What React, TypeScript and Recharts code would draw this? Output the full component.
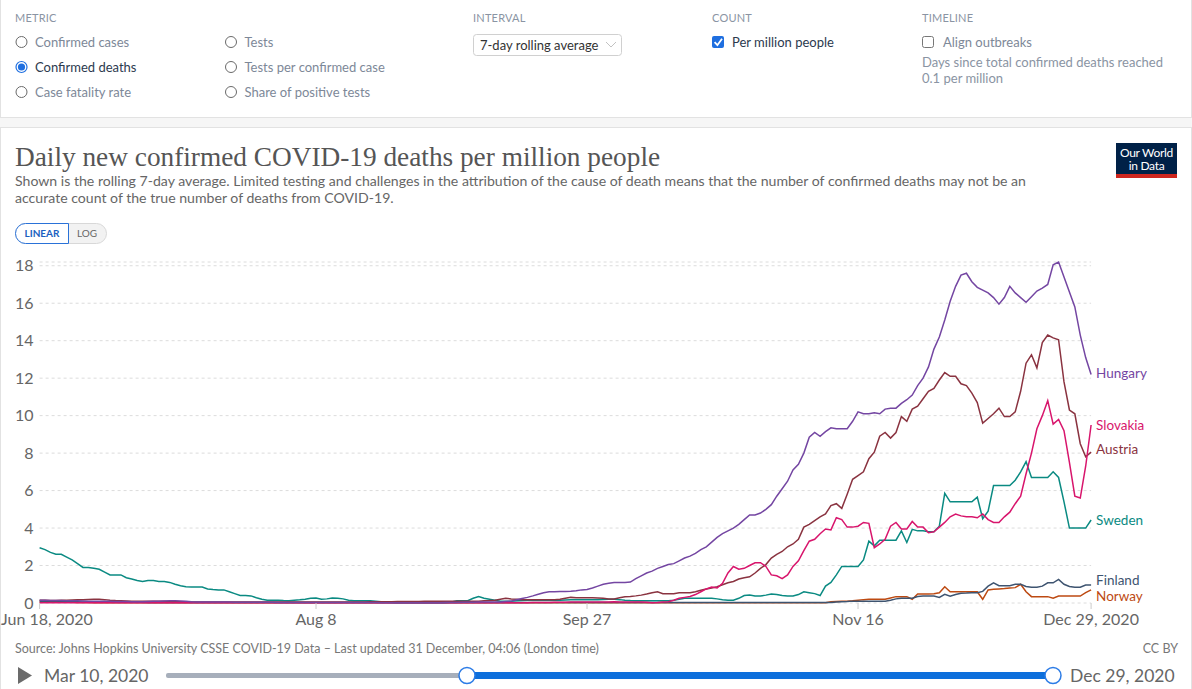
import React from 'react';
import { LineChart, Line, XAxis, YAxis, CartesianGrid, LabelList } from 'recharts';

// Daily values, Jun 18 2020 (day 0) .. Dec 29 2020 (day 194), deaths per million, 7-day avg
const hungary = [
  0.15,0.15,0.14,0.14,0.13,0.12,0.12,0.12,0.11,0.1,
  0.1,0.1,0.1,0.09,0.08,0.08,0.08,0.07,0.07,0.07,
  0.08,0.09,0.1,0.11,0.12,0.12,0.11,0.09,0.07,0.06,
  0.06,0.05,0.05,0.05,0.05,0.05,0.04,0.04,0.04,0.04,
  0.04,0.04,0.04,0.04,0.03,0.03,0.03,0.03,0.03,0.03,
  0.03,0.03,0.03,0.03,0.03,0.03,0.03,0.03,0.03,0.03,
  0.03,0.03,0.03,0.02,0.02,0.02,0.02,0.02,0.02,0.02,
  0.02,0.02,0.02,0.02,0.02,0.03,0.03,0.03,0.04,0.04,
  0.04,0.05,0.05,0.05,0.05,0.06,0.08,0.1,0.17,0.24,
  0.3,0.38,0.47,0.55,0.6,0.6,0.62,0.62,0.63,0.65,
  0.7,0.72,0.8,0.9,1.0,1.05,1.1,1.1,1.1,1.12,
  1.3,1.45,1.6,1.7,1.85,1.95,2.05,2.1,2.25,2.4,
  2.5,2.65,2.85,3.0,3.25,3.5,3.7,3.85,4.0,4.2,
  4.45,4.7,4.7,4.8,5.0,5.25,5.7,6.1,6.5,7.1,
  7.4,8.0,8.85,9.1,8.9,9.15,9.35,9.3,9.3,9.3,
  9.7,10.2,10.1,10.1,10.15,10.1,10.35,10.4,10.4,10.65,
  10.85,11.1,11.6,12.0,12.6,13.55,14.2,15.1,16.1,16.9,
  17.5,17.6,17.15,16.85,16.7,16.55,16.3,15.95,16.3,16.9,
  16.55,16.3,16.05,16.35,16.65,16.8,17.0,18.05,18.2,17.4,
  16.6,15.8,14.3,13.1,12.2,
];

const slovakia = [
  0.02,0.02,0.02,0.02,0.02,0.02,0.02,0.02,0.02,0.02,
  0.02,0.02,0.02,0.02,0.02,0.02,0.02,0.02,0.02,0.02,
  0.02,0.02,0.02,0.02,0.02,0.02,0.02,0.02,0.02,0.02,
  0.02,0.02,0.02,0.02,0.02,0.02,0.02,0.02,0.02,0.02,
  0.02,0.02,0.02,0.02,0.02,0.02,0.02,0.02,0.02,0.02,
  0.02,0.02,0.02,0.02,0.02,0.02,0.02,0.02,0.02,0.02,
  0.02,0.02,0.02,0.02,0.02,0.02,0.02,0.02,0.02,0.02,
  0.02,0.02,0.02,0.02,0.02,0.02,0.02,0.02,0.02,0.02,
  0.02,0.02,0.02,0.02,0.02,0.02,0.02,0.02,0.02,0.02,
  0.02,0.03,0.03,0.03,0.03,0.04,0.04,0.04,0.05,0.05,
  0.05,0.05,0.05,0.05,0.05,0.06,0.07,0.06,0.05,0.05,
  0.05,0.05,0.04,0.02,0.03,0.05,0.07,0.15,0.25,0.3,
  0.35,0.45,0.6,0.75,0.85,0.8,1.05,1.6,1.95,1.8,
  1.85,2.0,2.15,2.15,1.95,1.5,1.45,1.3,1.5,1.95,
  2.25,2.8,3.3,3.4,3.7,3.95,3.9,4.55,4.45,4.05,
  4.05,4.1,4.3,4.25,2.95,3.15,3.4,4.1,4.3,3.95,
  3.95,4.35,4.05,4.05,3.75,3.8,4.05,4.3,4.6,4.75,
  4.65,4.6,4.6,4.55,4.75,4.45,4.3,4.3,4.6,4.85,
  5.3,5.7,6.9,8.0,9.3,10.0,10.8,9.55,9.8,9.2,
  7.5,5.7,5.6,7.3,9.5,
];

const austria = [
  0.15,0.15,0.14,0.14,0.15,0.15,0.16,0.17,0.18,0.19,
  0.2,0.2,0.18,0.15,0.13,0.12,0.11,0.1,0.1,0.1,
  0.1,0.1,0.09,0.09,0.08,0.08,0.07,0.07,0.06,0.06,
  0.05,0.05,0.05,0.05,0.05,0.05,0.05,0.05,0.05,0.05,
  0.05,0.05,0.05,0.05,0.05,0.05,0.05,0.06,0.06,0.06,
  0.06,0.06,0.06,0.06,0.06,0.06,0.06,0.06,0.06,0.06,
  0.06,0.07,0.07,0.07,0.07,0.07,0.08,0.08,0.08,0.08,
  0.08,0.09,0.09,0.1,0.1,0.1,0.1,0.1,0.1,0.1,
  0.1,0.1,0.12,0.13,0.15,0.2,0.25,0.22,0.2,0.18,
  0.17,0.17,0.17,0.17,0.17,0.18,0.2,0.25,0.3,0.28,
  0.28,0.28,0.28,0.27,0.25,0.22,0.22,0.28,0.33,0.35,
  0.38,0.42,0.48,0.55,0.6,0.5,0.5,0.5,0.55,0.55,
  0.55,0.6,0.68,0.75,0.8,0.87,0.97,1.08,1.15,1.28,
  1.35,1.4,1.6,1.85,2.05,2.4,2.6,2.75,3.0,3.15,
  3.4,4.05,4.2,4.4,4.6,4.75,5.2,5.3,5.05,5.8,
  6.6,6.8,7.0,7.7,8.05,8.9,9.1,8.8,9.1,9.95,
  9.7,10.35,10.5,10.9,11.3,11.45,11.9,12.3,12.1,12.1,
  11.7,11.6,11.2,10.7,9.6,9.85,10.1,10.4,9.95,9.95,
  10.2,11.3,12.8,13.25,12.55,13.9,14.3,14.15,14.05,11.8,
  10.3,10.1,8.5,7.8,8.05,
];

const sweden = [
  2.95,2.85,2.7,2.6,2.6,2.45,2.3,2.1,1.9,1.9,
  1.85,1.8,1.65,1.5,1.5,1.5,1.35,1.28,1.2,1.15,
  1.2,1.2,1.15,1.15,1.1,1.0,0.92,0.87,0.85,0.85,
  0.85,0.75,0.72,0.7,0.7,0.6,0.5,0.4,0.4,0.38,
  0.28,0.2,0.15,0.15,0.15,0.13,0.12,0.15,0.17,0.2,
  0.25,0.27,0.2,0.22,0.27,0.25,0.22,0.15,0.12,0.12,
  0.12,0.12,0.1,0.07,0.05,0.02,0.01,0.01,0.01,0.01,
  0.01,0.01,0.01,0.01,0.01,0.01,0.05,0.12,0.12,0.12,
  0.25,0.35,0.25,0.2,0.15,0.1,0.1,0.1,0.12,0.14,
  0.15,0.15,0.15,0.15,0.15,0.15,0.15,0.16,0.17,0.17,
  0.17,0.17,0.17,0.18,0.19,0.2,0.2,0.18,0.15,0.13,
  0.12,0.12,0.12,0.12,0.12,0.12,0.12,0.15,0.2,0.25,
  0.25,0.25,0.25,0.25,0.25,0.22,0.17,0.15,0.15,0.25,
  0.4,0.43,0.38,0.37,0.42,0.48,0.45,0.4,0.37,0.37,
  0.45,0.6,0.55,0.5,0.4,0.9,1.1,1.5,1.95,1.95,
  1.95,1.95,2.3,3.3,3.05,3.35,3.35,3.35,3.35,3.85,
  3.23,3.93,3.85,3.85,3.8,3.8,4.1,5.85,5.4,5.4,
  5.4,5.4,5.4,5.65,4.5,4.9,6.27,6.27,6.27,6.27,
  6.55,7.0,7.55,6.7,6.7,6.7,6.7,7.0,6.7,5.4,
  4.0,4.0,4.0,4.0,4.43,
];

const finland = [
  0.1,0.1,0.09,0.09,0.08,0.08,0.07,0.07,0.06,0.06,
  0.06,0.05,0.05,0.05,0.05,0.04,0.04,0.04,0.04,0.04,
  0.03,0.03,0.03,0.03,0.03,0.03,0.03,0.03,0.03,0.03,
  0.03,0.03,0.03,0.03,0.03,0.03,0.03,0.03,0.03,0.03,
  0.03,0.03,0.03,0.03,0.03,0.03,0.03,0.03,0.03,0.03,
  0.03,0.03,0.03,0.03,0.03,0.03,0.03,0.03,0.03,0.03,
  0.03,0.03,0.03,0.03,0.03,0.03,0.03,0.03,0.03,0.03,
  0.03,0.03,0.03,0.03,0.03,0.03,0.03,0.03,0.03,0.03,
  0.03,0.03,0.03,0.03,0.03,0.03,0.03,0.03,0.03,0.03,
  0.03,0.03,0.03,0.03,0.03,0.03,0.03,0.03,0.03,0.03,
  0.03,0.03,0.03,0.03,0.03,0.03,0.03,0.03,0.03,0.03,
  0.03,0.03,0.03,0.03,0.03,0.03,0.03,0.03,0.03,0.03,
  0.03,0.03,0.03,0.03,0.03,0.03,0.03,0.03,0.03,0.03,
  0.03,0.03,0.03,0.03,0.03,0.03,0.03,0.03,0.03,0.03,
  0.03,0.03,0.03,0.03,0.03,0.03,0.03,0.05,0.07,0.08,
  0.1,0.1,0.1,0.1,0.1,0.1,0.1,0.15,0.22,0.25,
  0.25,0.25,0.35,0.37,0.37,0.37,0.3,0.46,0.36,0.45,
  0.52,0.53,0.55,0.55,0.62,0.9,1.08,0.92,0.92,0.92,
  1.0,1.0,0.88,0.84,0.84,0.9,1.08,1.08,1.26,1.0,
  0.88,0.84,0.84,0.96,0.96,
];

const norway = [
  0.05,0.05,0.05,0.04,0.04,0.04,0.04,0.03,0.03,0.03,
  0.02,0.02,0.02,0.02,0.02,0.02,0.02,0.02,0.02,0.02,
  0.02,0.02,0.02,0.02,0.02,0.02,0.02,0.02,0.02,0.02,
  0.02,0.02,0.02,0.02,0.02,0.02,0.02,0.02,0.02,0.02,
  0.02,0.02,0.02,0.02,0.02,0.02,0.02,0.02,0.02,0.02,
  0.02,0.02,0.02,0.02,0.02,0.02,0.02,0.02,0.02,0.02,
  0.02,0.02,0.02,0.02,0.02,0.02,0.02,0.02,0.02,0.02,
  0.02,0.02,0.02,0.02,0.02,0.02,0.02,0.02,0.02,0.02,
  0.02,0.02,0.02,0.02,0.02,0.02,0.02,0.02,0.02,0.02,
  0.02,0.02,0.02,0.02,0.02,0.02,0.02,0.02,0.02,0.02,
  0.02,0.02,0.02,0.02,0.02,0.02,0.02,0.02,0.02,0.02,
  0.02,0.02,0.02,0.02,0.02,0.02,0.02,0.02,0.02,0.02,
  0.02,0.02,0.02,0.02,0.02,0.02,0.02,0.02,0.02,0.02,
  0.02,0.02,0.02,0.02,0.02,0.02,0.02,0.02,0.02,0.02,
  0.02,0.02,0.02,0.02,0.02,0.02,0.07,0.08,0.09,0.1,
  0.12,0.15,0.18,0.2,0.2,0.2,0.2,0.27,0.34,0.34,
  0.34,0.2,0.48,0.48,0.48,0.5,0.55,0.87,0.6,0.6,
  0.6,0.6,0.6,0.6,0.2,0.7,0.73,0.75,0.77,0.8,
  0.82,1.0,0.6,0.34,0.34,0.34,0.34,0.25,0.37,0.37,
  0.37,0.37,0.37,0.55,0.7,
];

const seriesNames = ['Norway', 'Finland', 'Sweden', 'Austria', 'Slovakia', 'Hungary'];
const seriesValues = [norway, finland, sweden, austria, slovakia, hungary];
const seriesColors = ['#BD4A12', '#3E5470', '#0A8A82', '#8A3340', '#D8156C', '#7446A2'];
const seriesLabelDy = [6, -5, 0, -3, 0, -1];

const xTickDays = [0, 51, 101, 151, 194];
const xTickLabels = ['Jun 18, 2020', 'Aug 8', 'Sep 27', 'Nov 16', 'Dec 29, 2020'];
const yTicks = [0, 2, 4, 6, 8, 10, 12, 14, 16, 18];

const LAST = hungary.length - 1;
const rows = hungary.map((_, i) => {
  const r: Record<string, number> = { day: i };
  seriesNames.forEach((n, k) => { r[n] = seriesValues[k][i]; });
  return r;
});

const FONT = 'Lato, sans-serif';

const XTick = (props: any) => {
  const { x, y, payload } = props;
  const idx = xTickDays.indexOf(payload.value);
  const first = idx === 0;
  return (
    <text x={first ? x - 38.6 : x} y={y} dy={16} textAnchor={first ? 'start' : 'middle'}
      fill="#666" fontSize={16} fontFamily={FONT}>
      {xTickLabels[idx]}
    </text>
  );
};

const makeEndLabel = (name: string, color: string, dy: number) => (props: any) => {
  const { x, y, index } = props;
  if (index !== LAST) return null;
  return (
    <text x={x + 5} y={y + dy} dy="0.35em" fill={color} fontSize={13.5} fontFamily={FONT}>{name}</text>
  );
};

const Radio = ({ x, y, label, checked }: any) => (
  <g>
    {checked ? (
      <>
        <circle cx={x} cy={y} r={5.5} fill="#fff" stroke="#1f6fe0" strokeWidth={1.2} />
        <circle cx={x} cy={y} r={3.6} fill="#1f6fe0" />
      </>
    ) : (
      <circle cx={x} cy={y} r={5.5} fill="#fff" stroke="#6a6a6a" strokeWidth={1} />
    )}
    <text x={x + 13.5} y={y + 4.5} fontSize={13} fill={checked ? '#2c3a4e' : '#7d8898'}>{label}</text>
  </g>
);

const Decorations = () => (
  <svg width={1192} height={689} style={{ position: 'absolute', left: 0, top: 0 }} fontFamily={FONT}>
    <rect x={0} y={0} width={1192} height={689} fill="#f6f6f6" />
    <rect x={0.5} y={-1} width={1191} height={118.5} fill="#fff" stroke="#e2e2e2" />
    <rect x={0.5} y={127.5} width={1191} height={570} fill="#fff" stroke="#e2e2e2" />

    {/* Controls */}
    <text x={15} y={22} fontSize={11} fill="#8a94a3" letterSpacing={0.2}>METRIC</text>
    <Radio x={21.5} y={42} label="Confirmed cases" />
    <Radio x={21.5} y={67} label="Confirmed deaths" checked />
    <Radio x={21.5} y={92} label="Case fatality rate" />
    <Radio x={231} y={42} label="Tests" />
    <Radio x={231} y={67} label="Tests per confirmed case" />
    <Radio x={231} y={92} label="Share of positive tests" />

    <text x={473} y={22} fontSize={11} fill="#8a94a3" letterSpacing={0.2}>INTERVAL</text>
    <rect x={473.5} y={34.5} width={148} height={21} rx={3} fill="#fff" stroke="#d0d0d0" />
    <text x={480} y={50} fontSize={13} fill="#333">7-day rolling average</text>
    <path d="M606 42 L611 47 L616 42" fill="none" stroke="#c2c2c2" strokeWidth={1} />

    <text x={712} y={22} fontSize={11} fill="#8a94a3" letterSpacing={0.2}>COUNT</text>
    <rect x={712} y={36} width={12} height={12} rx={2} fill="#1f6fe0" />
    <path d="M714.6 42.2 L717.4 45.2 L722 38.8" fill="none" stroke="#fff" strokeWidth={1.8} />
    <text x={732} y={47} fontSize={13} fill="#2c3a4e">Per million people</text>

    <text x={922} y={22} fontSize={11} fill="#8a94a3" letterSpacing={0.2}>TIMELINE</text>
    <rect x={922.5} y={36.5} width={11} height={11} rx={2} fill="#fff" stroke="#777" />
    <text x={943} y={47} fontSize={13} fill="#7d8898">Align outbreaks</text>
    <text x={922} y={67} fontSize={13} fill="#8a94a3">Days since total confirmed deaths reached</text>
    <text x={922} y={83} fontSize={13} fill="#8a94a3">0.1 per million</text>

    {/* Title */}
    <text x={15} y={166} fontSize={27.3} fill="#555" fontFamily="'Liberation Serif', 'DejaVu Serif', serif">
      Daily new confirmed COVID-19 deaths per million people
    </text>
    <text x={15} y={186} fontSize={14.1} fill="#666">
      Shown is the rolling 7-day average. Limited testing and challenges in the attribution of the cause of death means that the number of confirmed deaths may not be an
    </text>
    <text x={15} y={203} fontSize={14.1} fill="#666">
      accurate count of the true number of deaths from COVID-19.
    </text>

    {/* Logo */}
    <rect x={1116} y={143} width={61} height={35} fill="#002147" />
    <rect x={1116} y={174} width={61} height={4} fill="#ce261e" />
    <text x={1146.5} y={157} fontSize={12} fill="#fff" textAnchor="middle" letterSpacing={-0.3}>Our World</text>
    <text x={1146.5} y={170} fontSize={12} fill="#fff" textAnchor="middle" letterSpacing={-0.3}>in Data</text>

    {/* Linear / Log toggle */}
    <rect x={15.5} y={223.5} width={91} height={20} rx={10} fill="#f2f2f2" stroke="#d8d8d8" />
    <path d="M68.5 223.5 H25.5 A10 10 0 0 0 25.5 243.5 H68.5 Z" fill="#fff" stroke="#2a72d8" />
    <text x={42} y={237} fontSize={10} fill="#1b5fc0" textAnchor="middle" fontWeight={700}>LINEAR</text>
    <text x={87} y={237} fontSize={10} fill="#666" textAnchor="middle">LOG</text>

    {/* Footer */}
    <text x={15} y={653} fontSize={12.5} fill="#777">
      Source: Johns Hopkins University CSSE COVID-19 Data – Last updated 31 December, 04:06 (London time)
    </text>
    <text x={1178} y={653} fontSize={12.5} fill="#777" textAnchor="end">CC BY</text>
    <polygon points="18,667 32,675.5 18,684" fill="#6b6b6b" />
    <text x={44} y={681.5} fontSize={17.5} fill="#666">Mar 10, 2020</text>
    <rect x={166} y={673} width={301} height={5} rx={2} fill="#a7afbb" />
    <rect x={467} y={672} width={586} height={7} fill="#0d6fdc" />
    <circle cx={467} cy={675.5} r={8} fill="#fff" stroke="#2c7ce6" strokeWidth={1.5} />
    <circle cx={1053} cy={675.5} r={8} fill="#fff" stroke="#2c7ce6" strokeWidth={1.5} />
    <text x={1070} y={681.5} fontSize={17.5} fill="#666">Dec 29, 2020</text>
  </svg>
);

export default function App() {
  return (
    <div style={{ position: 'absolute', left: 0, top: 0, width: 1192, height: 689, overflow: 'hidden', fontFamily: FONT }}>
      <Decorations />
      <div style={{ position: 'absolute', left: 0, top: 250 }}>
        <LineChart width={1192} height={385} data={rows} margin={{ top: 12, right: 100.9, bottom: 0, left: 0 }}>
          <CartesianGrid vertical={false} stroke="#dcdcdc" strokeDasharray="3 3" />
          <XAxis dataKey="day" type="number" domain={[0, 194]} ticks={xTickDays} interval={0}
            tick={<XTick />} tickSize={6} tickMargin={0} height={32}
            tickLine={{ stroke: '#ccc' }} axisLine={false} />
          <YAxis type="number" domain={[0, 18]} ticks={yTicks} interval={0} width={39.6}
            tickLine={false} axisLine={false} tickSize={0} tickMargin={6}
            tick={{ fill: '#666', fontSize: 16, fontFamily: FONT }} />
          {seriesNames.map((n, k) => (
            <Line key={n} dataKey={n} type="linear" stroke={seriesColors[k]} strokeWidth={1.5}
              dot={false} activeDot={false} isAnimationActive={false}>
              <LabelList dataKey={n} content={makeEndLabel(n, seriesColors[k], seriesLabelDy[k])} />
            </Line>
          ))}
        </LineChart>
      </div>
    </div>
  );
}
